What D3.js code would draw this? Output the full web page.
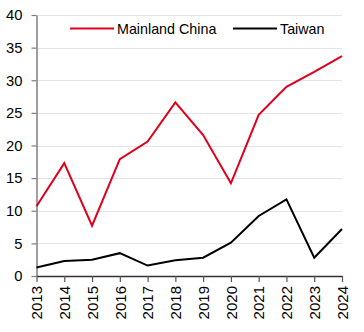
<!DOCTYPE html>
<html>
<head>
<meta charset="utf-8">
<script src="https://cdn.jsdelivr.net/npm/d3@7/dist/d3.min.js"></script>
<style>
  html, body { margin: 0; padding: 0; background: #fff; }
  svg { display: block; font-family: "Liberation Sans", Arial, sans-serif; }
</style>
</head>
<body>
<svg id="chart" width="364" height="332"></svg>
<script>
const years = [2013, 2014, 2015, 2016, 2017, 2018, 2019, 2020, 2021, 2022, 2023, 2024];
const mainlandChina = [10.7, 17.3, 7.7, 17.9, 20.6, 26.6, 21.6, 14.2, 24.7, 29.0, 31.3, 33.7];
const taiwan = [1.3, 2.3, 2.5, 3.5, 1.6, 2.4, 2.8, 5.1, 9.2, 11.75, 2.8, 7.2];
const yTicks = [0, 5, 10, 15, 20, 25, 30, 35, 40];
const seriesNames = ["Mainland China", "Taiwan"];
const seriesColors = ["#e0001b", "#000000"];

const svg = d3.select("#chart");
const plotLeft = 36.5, plotRight = 342, plotTop = 15, plotBottom = 276;

const x = d3.scalePoint().domain(years).range([plotLeft, plotRight]);
const y = d3.scaleLinear().domain([0, 40]).range([plotBottom, plotTop]);

// horizontal gridlines
svg.append("g")
  .selectAll("line")
  .data(yTicks.filter(d => d > 0))
  .join("line")
  .attr("x1", plotLeft).attr("x2", plotRight)
  .attr("y1", d => Math.round(y(d)) + 0.5).attr("y2", d => Math.round(y(d)) + 0.5)
  .attr("stroke", "#e4e4e4").attr("stroke-width", 1);

// y axis
const yAxis = svg.append("g")
  .attr("transform", `translate(${plotLeft},0)`)
  .call(d3.axisLeft(y).tickValues(yTicks).tickSize(5).tickPadding(9).tickSizeOuter(0));
yAxis.select(".domain").attr("stroke", "#7f7f7f").attr("stroke-width", 1.5);
yAxis.selectAll(".tick line").attr("stroke", "#7f7f7f").attr("stroke-width", 1.2);
yAxis.selectAll(".tick text").attr("font-size", 14.8).attr("fill", "#000")
  .attr("font-family", "Liberation Sans, Arial, sans-serif");

// x axis
const xAxis = svg.append("g")
  .attr("transform", `translate(0,${plotBottom})`)
  .call(d3.axisBottom(x).tickSize(6).tickSizeOuter(0));
xAxis.select(".domain").attr("stroke", "#333").attr("stroke-width", 1.5);
xAxis.selectAll(".tick line").attr("stroke", "#555").attr("stroke-width", 1.2);
xAxis.selectAll(".tick text")
  .attr("font-size", 15).attr("fill", "#000")
  .attr("font-family", "Liberation Sans, Arial, sans-serif")
  .attr("transform", "rotate(-90)")
  .attr("text-anchor", "end")
  .attr("x", -10).attr("y", 0).attr("dy", "0.35em");

// series lines
const line = d3.line().x((d, i) => x(years[i])).y(d => y(d));
[mainlandChina, taiwan].forEach((vals, k) => {
  svg.append("path")
    .datum(vals)
    .attr("d", line)
    .attr("fill", "none")
    .attr("stroke", seriesColors[k])
    .attr("stroke-width", 2)
    .attr("stroke-linejoin", "miter");
});

// legend
const legendX = [70, 233];
seriesNames.forEach((name, k) => {
  const g = svg.append("g").attr("transform", `translate(${legendX[k]},28.5)`);
  g.append("line").attr("x1", 0).attr("x2", 44).attr("y1", 0).attr("y2", 0)
    .attr("stroke", seriesColors[k]).attr("stroke-width", 2);
  g.append("text").attr("x", 47).attr("y", 0).attr("dy", "0.35em")
    .attr("font-size", 14.3).attr("fill", "#000").text(name);
});
</script>
</body>
</html>
